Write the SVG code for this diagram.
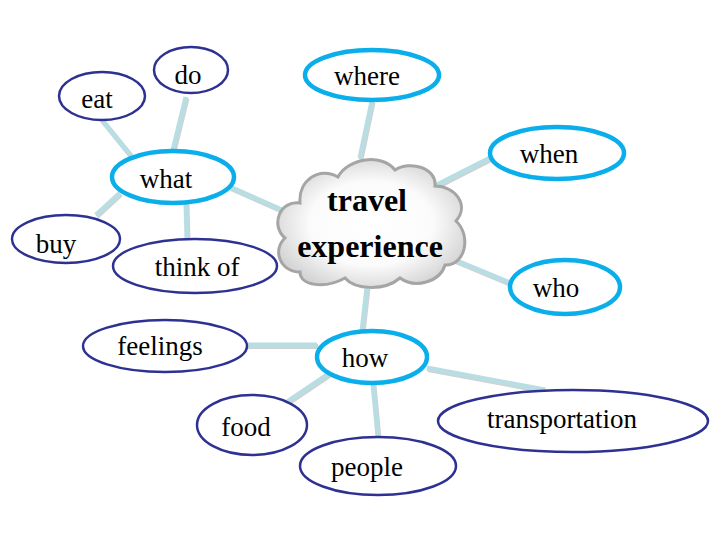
<svg xmlns="http://www.w3.org/2000/svg" width="720" height="540" viewBox="0 0 720 540">
<defs>
<radialGradient id="cg" cx="50%" cy="50%" r="55%">
<stop offset="0" stop-color="#ffffff"/>
<stop offset="0.6" stop-color="#fbfbfb"/>
<stop offset="1" stop-color="#d4d4d4"/>
</radialGradient>
<style>
.sh{stroke:#9a9a9a;stroke-width:5;stroke-opacity:0.45;fill:none}
.ln{stroke:#B8DEE4;stroke-width:5;fill:none}
.main{fill:#fff;stroke:#0AAEEB;stroke-width:4.5}
.sub{fill:#fff;stroke:#2E3192;stroke-width:2.5}
</style>
</defs>
<rect width="720" height="540" fill="#fff"/>
<g id="connectors">
<g transform="translate(1,1.5)">
<line class="sh" x1="102" y1="120" x2="132" y2="157"/>
<line class="sh" x1="186" y1="97" x2="173" y2="150"/>
<line class="sh" x1="120" y1="193" x2="96" y2="215"/>
<line class="sh" x1="186" y1="203" x2="187" y2="240"/>
<line class="sh" x1="230" y1="187" x2="282" y2="210"/>
<line class="sh" x1="372" y1="101" x2="360" y2="158"/>
<line class="sh" x1="492" y1="157" x2="433" y2="187"/>
<line class="sh" x1="450" y1="258" x2="510" y2="283"/>
<line class="sh" x1="368" y1="278" x2="362" y2="331"/>
<line class="sh" x1="246" y1="345" x2="317" y2="345"/>
<line class="sh" x1="330" y1="373" x2="287" y2="402"/>
<line class="sh" x1="373" y1="384" x2="378" y2="437"/>
<line class="sh" x1="427" y1="368" x2="545" y2="390"/>
</g>
<line class="ln" x1="102" y1="120" x2="132" y2="157"/>
<line class="ln" x1="186" y1="97" x2="173" y2="150"/>
<line class="ln" x1="120" y1="193" x2="96" y2="215"/>
<line class="ln" x1="186" y1="203" x2="187" y2="240"/>
<line class="ln" x1="230" y1="187" x2="282" y2="210"/>
<line class="ln" x1="372" y1="101" x2="360" y2="158"/>
<line class="ln" x1="492" y1="157" x2="433" y2="187"/>
<line class="ln" x1="450" y1="258" x2="510" y2="283"/>
<line class="ln" x1="368" y1="278" x2="362" y2="331"/>
<line class="ln" x1="246" y1="345" x2="317" y2="345"/>
<line class="ln" x1="330" y1="373" x2="287" y2="402"/>
<line class="ln" x1="373" y1="384" x2="378" y2="437"/>
<line class="ln" x1="427" y1="368" x2="545" y2="390"/>
</g>
<g font-family="Liberation Serif, Times New Roman, DejaVu Serif, serif" fill="#000" text-anchor="middle" font-size="27">
<g id="center">
<path d="M 300 272 C 280 272 272 250 285 238 C 270 225 280 200 300 203 C 298 180 320 166 338 177 C 348 158 382 153 395 170 C 410 160 437 168 435 186 C 455 186 470 205 456 221 C 472 236 465 266 445 265 C 440 282 415 289 400 278 C 385 291 355 290 345 278 C 325 289 300 286 300 272 Z" fill="url(#cg)" stroke="#A5A5A5" stroke-width="3"/>
<text x="367" y="211" font-size="32" font-weight="bold">travel</text>
<text x="370" y="257" font-size="32" font-weight="bold">experience</text>
</g>
<g id="where"><ellipse class="main" cx="372" cy="75" rx="67" ry="25"/><text x="367" y="85">where</text></g>
<g id="when"><ellipse class="main" cx="557" cy="153" rx="67" ry="26"/><text x="549" y="163">when</text></g>
<g id="who"><ellipse class="main" cx="565" cy="287" rx="55" ry="27"/><text x="556" y="297">who</text></g>
<g id="what"><ellipse class="main" cx="173" cy="177" rx="61" ry="26"/><text x="166" y="188">what</text></g>
<g id="how"><ellipse class="main" cx="372" cy="357" rx="55" ry="26"/><text x="365" y="367">how</text></g>
<g id="eat"><ellipse class="sub" cx="102" cy="96" rx="43" ry="24"/><text x="97" y="108">eat</text></g>
<g id="do"><ellipse class="sub" cx="191" cy="70" rx="37" ry="23"/><text x="188" y="84">do</text></g>
<g id="buy"><ellipse class="sub" cx="66" cy="239" rx="54" ry="24"/><text x="56" y="253">buy</text></g>
<g id="thinkof"><ellipse class="sub" cx="195" cy="266" rx="82" ry="27"/><text x="197" y="276">think of</text></g>
<g id="feelings"><ellipse class="sub" cx="165" cy="346" rx="82" ry="26"/><text x="160" y="355">feelings</text></g>
<g id="food"><ellipse class="sub" cx="252" cy="425" rx="55" ry="30"/><text x="246" y="436">food</text></g>
<g id="people"><ellipse class="sub" cx="378" cy="466" rx="78" ry="29"/><text x="367" y="476">people</text></g>
<g id="transportation"><ellipse class="sub" cx="573" cy="421" rx="135" ry="31"/><text x="562" y="428">transportation</text></g>
</g>
</svg>
